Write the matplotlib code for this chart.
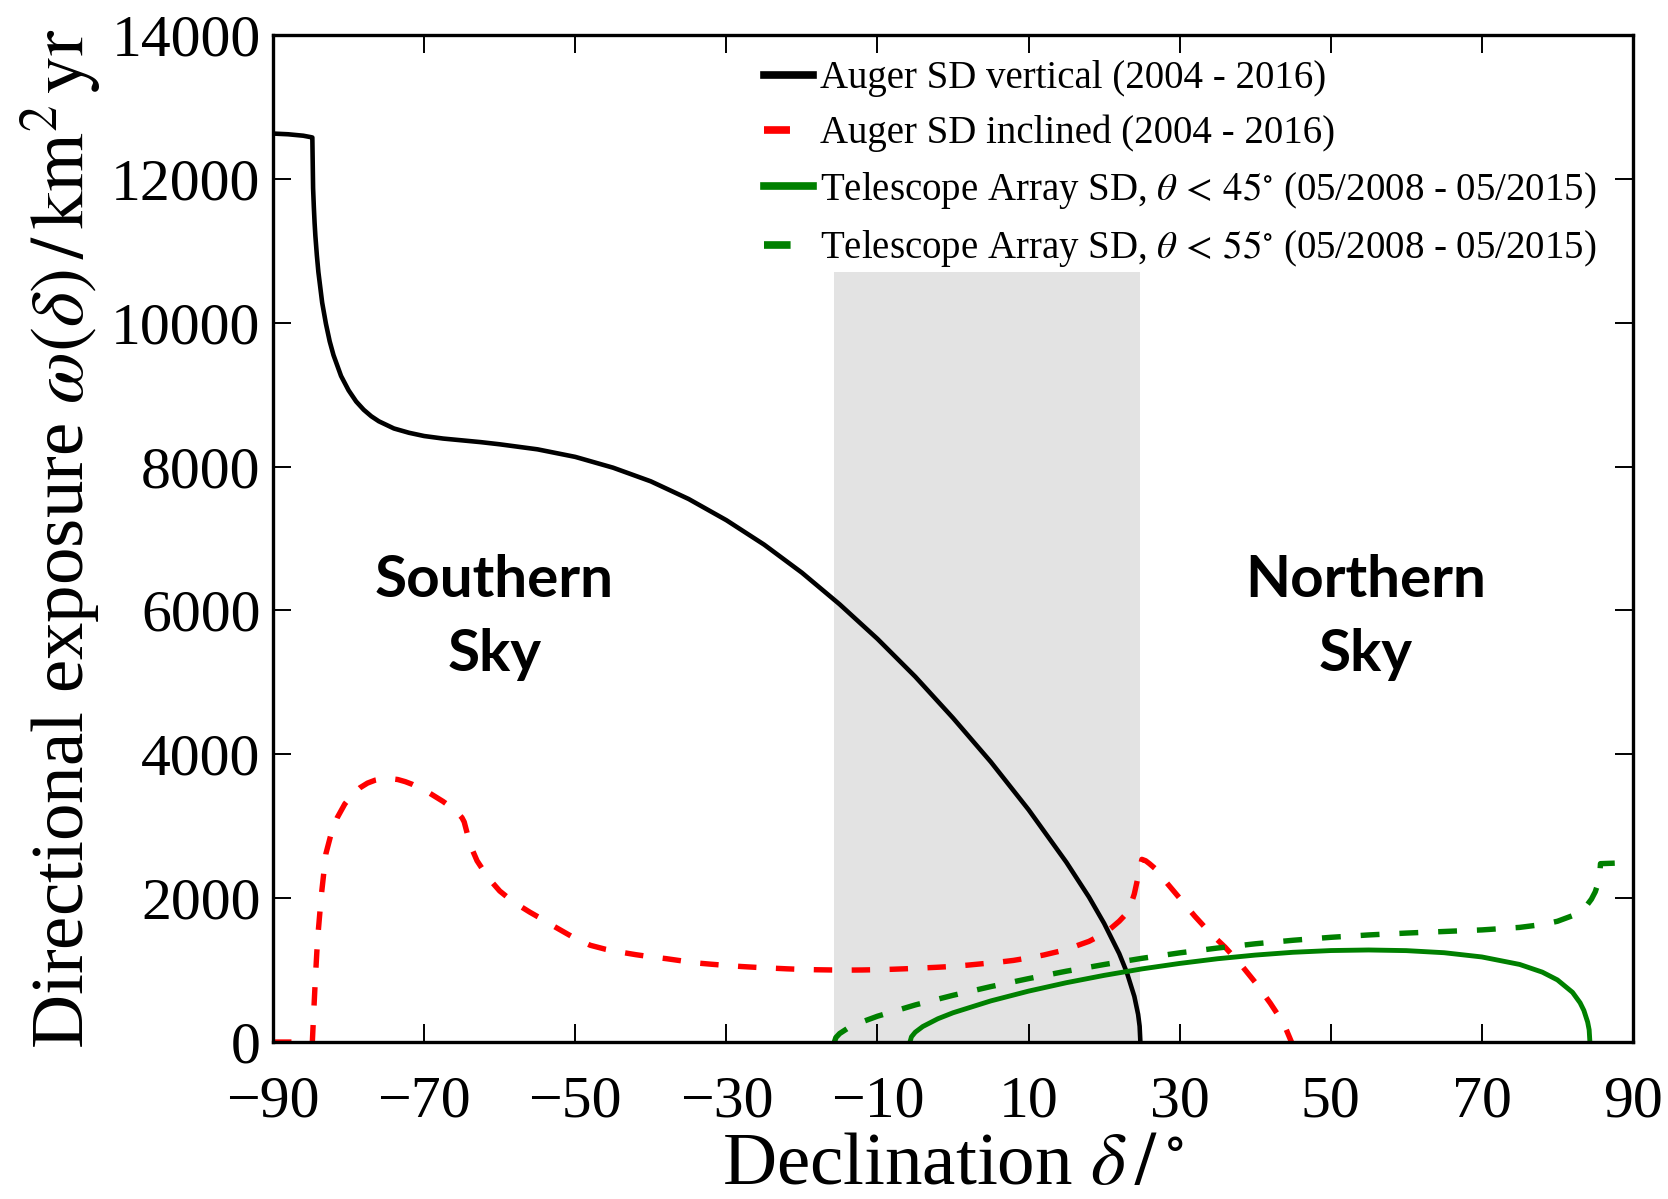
import matplotlib.pyplot as plt

plt.rcParams['font.family'] = ['Liberation Serif', 'DejaVu Serif']
plt.rcParams['mathtext.fontset'] = 'stix'

# Auger SD vertical (declination in deg, exposure in km^2 yr)
vert_dec = [-90, -88, -86, -85, -84.8, -84.7, -84.6, -84.5, -84.4, -84.2, -84.0,
            -83.5, -83.0, -82.5, -82.0, -81.0, -80.0, -79.0, -78.0, -77.0, -76.0,
            -74.0, -72.0, -70.0, -67.5, -65.0, -62.5, -60.0, -55.0, -50.0, -45.0,
            -40.0, -35.0, -30.0, -25.0, -20.0, -15.0, -10.0, -5.0, 0.0, 5.0, 10.0,
            15.0, 18.0, 20.0, 22.0, 23.0, 24.0, 24.5, 24.7, 24.8]
vert_exp = [12630, 12620, 12600, 12580, 12575, 11870, 11605, 11385, 11210, 10935, 10705,
            10280, 9985, 9740, 9550, 9260, 9060, 8905, 8790, 8700, 8630,
            8530, 8470, 8425, 8390, 8365, 8340, 8310, 8240, 8135, 7985,
            7795, 7550, 7255, 6915, 6525, 6085, 5605, 5080, 4505, 3895, 3230,
            2500, 2015, 1650, 1230, 970, 635, 385, 220, 0]

# Auger SD inclined
incl_dec = [-90, -87.5, -84.8, -84.6, -84.4, -84.2, -84.0, -83.6, -83.0, -82.3, -81.5,
            -80.5, -79.5, -78.5, -77.5, -76.5, -75.5, -74.5, -73.5, -72.5, -71.5,
            -70.5, -69.5, -68.5, -67.5, -66.5, -65.7, -65.0, -64.7, -64.3, -63.9,
            -63.0, -62.0, -61.0, -60.0, -59.0, -58.0, -57.0, -56.0, -55.0, -54.0,
            -53.0, -52.0, -50.0, -48.0, -46.0, -44.0, -42.0, -40.0, -38.0, -36.0,
            -34.0, -32.0, -30.0, -28.0, -26.0, -24.0, -22.0, -20.0, -18.0, -16.0,
            -14.0, -12.0, -10.0, -8.0, -6.0, -4.0, -2.0, 0.0, 2.0, 4.0, 6.0, 8.0,
            10.0, 12.0, 14.0, 16.0, 18.0, 19.0, 20.0, 21.0, 22.0, 23.0, 23.5, 24.0,
            24.5, 25.0, 25.5, 26.0, 27.0, 28.0, 30.0, 32.0, 34.0, 36.0, 38.0, 40.0,
            42.0, 43.0, 44.0, 44.8]
incl_exp = [0, 0, 0, 450, 880, 1260, 1560, 2050, 2620, 2900, 3120,
            3310, 3440, 3535, 3600, 3640, 3660, 3662, 3650, 3620, 3580,
            3530, 3475, 3410, 3345, 3270, 3200, 3120, 3060, 2900, 2740,
            2520, 2360, 2220, 2100, 2015, 1935, 1870, 1805, 1745, 1690,
            1620, 1560, 1440, 1345, 1290, 1250, 1215, 1185, 1160, 1130,
            1100, 1082, 1065, 1050, 1038, 1028, 1018, 1010, 1005, 1002,
            1000, 1002, 1006, 1012, 1020, 1030, 1040, 1052, 1070, 1090, 1110, 1135,
            1170, 1210, 1260, 1325, 1400, 1455, 1510, 1590, 1680, 1790, 1900, 2060,
            2300, 2540, 2520, 2480, 2390, 2250, 2000, 1750, 1520, 1320, 1090, 830,
            540, 380, 200, 0]

# Telescope Array SD, theta < 45 deg
ta45_dec = [-5.7, -5.5, -5.0, -4.0, -2.0, 0.0, 5.0, 10.0, 15.0, 20.0, 25.0, 30.0,
            35.0, 40.0, 45.0, 50.0, 55.0, 60.0, 65.0, 70.0, 75.0, 78.0, 80.0, 82.0,
            83.0, 83.5, 84.0, 84.2, 84.3]
ta45_exp = [0, 73, 137, 216, 324, 407, 572, 708, 825, 927, 1017, 1093,
            1158, 1209, 1248, 1272, 1280, 1271, 1242, 1183, 1079, 972, 864, 691,
            546, 440, 278, 170, 0]

# Telescope Array SD, theta < 55 deg
ta55_dec = [-15.7, -15.5, -15.0, -14.0, -12.0, -10.0, -5.0, 0.0, 5.0, 10.0, 15.0,
            20.0, 25.0, 30.0, 35.0, 40.0, 45.0, 50.0, 55.0, 60.0, 65.0, 70.0, 75.0,
            78.0, 80.0, 82.0, 83.0, 84.0, 84.5, 85.0, 85.4, 85.6, 85.7, 87.6]
ta55_exp = [0, 63, 119, 187, 282, 359, 516, 650, 771, 882, 985,
            1078, 1164, 1240, 1307, 1366, 1415, 1456, 1489, 1515, 1537, 1559, 1594,
            1634, 1679, 1757, 1820, 1916, 1986, 2087, 2213, 2326, 2480, 2487]

# band seen by both observatories
shade_dec = [-15.7, 24.8]
shade_top = 10700

labels = ['Auger SD vertical (2004 - 2016)',
          'Auger SD inclined (2004 - 2016)',
          r'Telescope Array SD, $\theta\,<\,45^{\circ}$ (05/2008 - 05/2015)',
          r'Telescope Array SD, $\theta\,<\,55^{\circ}$ (05/2008 - 05/2015)']

fig = plt.figure(figsize=(16.68, 11.99), dpi=100)
ax = fig.add_axes([0.1637, 0.1309, 0.8153, 0.8399])

ax.fill_between(shade_dec, 0, shade_top, color='#e3e3e3', lw=0, zorder=0)

ax.plot(vert_dec, vert_exp, color='black', lw=3.3, label=labels[0])
ax.plot(incl_dec, incl_exp, color='red', lw=3.9, ls=(0, (3.4, 3.6)), label=labels[1])
ax.plot(ta45_dec, ta45_exp, color='green', lw=3.5, label=labels[2])
ax.plot(ta55_dec, ta55_exp, color='green', lw=3.9, ls=(0, (3.48, 3.68)), label=labels[3])

ax.set_xlim(-90, 90)
ax.set_ylim(0, 14000)
ax.set_xticks(range(-90, 91, 20))
ax.set_yticks(range(0, 14001, 2000))
ax.tick_params(direction='in', length=13, width=1.4, top=True, right=True, labelsize=43)
ax.tick_params(axis='x', pad=24)
ax.tick_params(axis='y', pad=9)
for s in ax.spines.values():
    s.set_linewidth(2.4)

ax.set_xlabel(r'Declination $\delta\,/\,^{\circ}$', fontsize=54)
ax.set_ylabel(r'Directional exposure $\omega(\delta)\,/\,\mathrm{km}^2\,\mathrm{yr}$', fontsize=54)
ax.xaxis.set_label_coords(0.5, -0.09)
ax.xaxis.label.set_va('top')
ax.yaxis.set_label_coords(-0.124, 0.5)

leg = ax.legend(loc='upper left', bbox_to_anchor=(0.361, 0.975), frameon=False,
                fontsize=28, handlelength=1.25, handletextpad=0.2, labelspacing=0.45,
                borderpad=0, borderaxespad=0)
for line in leg.get_lines():
    line.set_linewidth(5.5)

ax.text(-60.7, 5900, 'Southern\nSky', ha='center', va='center', fontsize=42,
        fontweight='bold', family='Lato', linespacing=1.5)
ax.text(54.6, 5900, 'Northern\nSky', ha='center', va='center', fontsize=42,
        fontweight='bold', family='Lato', linespacing=1.5)

fig.savefig('out.png', dpi=100)
